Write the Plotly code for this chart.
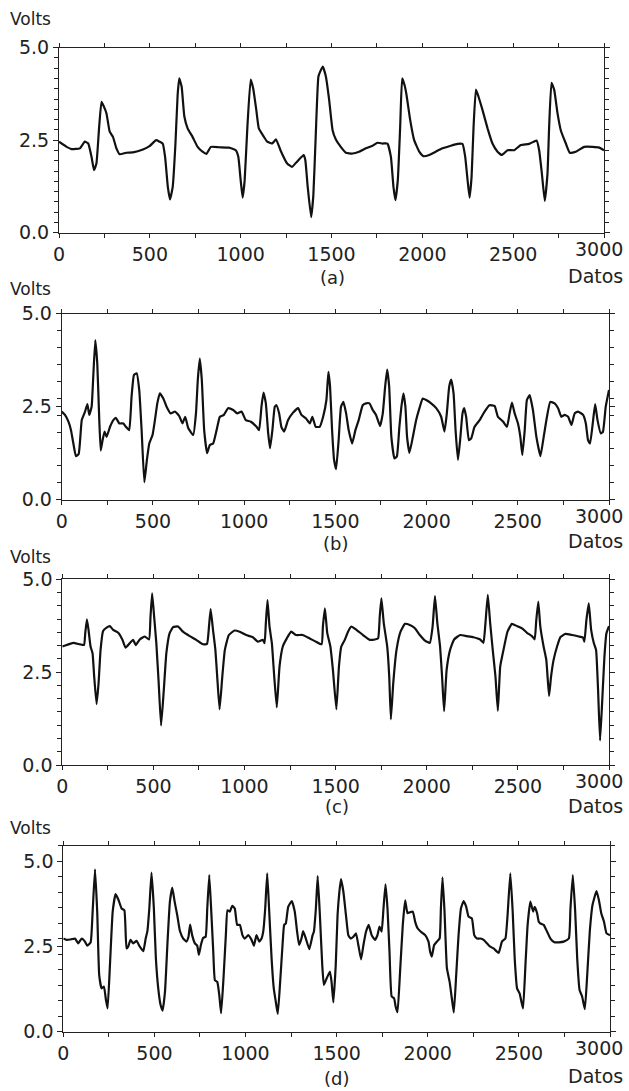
import plotly.graph_objects as go

# ---------------- data (sample index, volts) ----------------
a_x = [0, 42, 69, 115, 142, 161, 179, 193, 206, 221, 234, 246, 261, 279, 297, 316, 334, 370, 407, 462, 498, 535, 553, 571, 584, 599, 611, 626, 641, 653, 662, 675, 690, 708, 735, 763, 790, 812, 836, 881, 936, 973, 987, 1000, 1011, 1022, 1037, 1055, 1069, 1086, 1100, 1128, 1146, 1173, 1195, 1219, 1256, 1283, 1310, 1347, 1356, 1369, 1388, 1400, 1413, 1428, 1440, 1452, 1469, 1487, 1506, 1524, 1551, 1579, 1616, 1652, 1689, 1726, 1753, 1781, 1808, 1827, 1841, 1852, 1865, 1878, 1889, 1902, 1913, 1933, 1955, 1983, 2005, 2038, 2074, 2111, 2157, 2194, 2221, 2236, 2249, 2260, 2271, 2282, 2295, 2309, 2331, 2359, 2386, 2414, 2438, 2469, 2506, 2542, 2588, 2629, 2643, 2658, 2674, 2689, 2698, 2711, 2726, 2744, 2762, 2790, 2812, 2845, 2891, 2937, 2974, 3000]
a_v = [2.46, 2.32, 2.26, 2.28, 2.46, 2.41, 2.05, 1.69, 1.87, 2.86, 3.54, 3.42, 3.23, 2.73, 2.59, 2.28, 2.12, 2.16, 2.17, 2.25, 2.34, 2.50, 2.46, 2.41, 2.05, 1.24, 0.90, 1.24, 2.41, 3.72, 4.17, 3.95, 3.14, 2.82, 2.59, 2.32, 2.19, 2.13, 2.32, 2.31, 2.30, 2.23, 2.05, 1.42, 0.95, 1.42, 2.86, 4.14, 3.90, 3.32, 2.82, 2.59, 2.46, 2.41, 2.52, 2.23, 1.87, 1.78, 1.92, 2.10, 1.96, 1.24, 0.42, 1.00, 2.60, 4.22, 4.38, 4.49, 4.22, 3.59, 2.77, 2.52, 2.32, 2.16, 2.14, 2.19, 2.28, 2.35, 2.43, 2.41, 2.41, 2.05, 1.24, 0.88, 1.42, 2.86, 4.17, 3.99, 3.72, 3.05, 2.50, 2.19, 2.07, 2.10, 2.19, 2.28, 2.35, 2.40, 2.40, 2.05, 1.42, 0.95, 1.51, 2.86, 3.87, 3.68, 3.32, 2.82, 2.41, 2.19, 2.10, 2.23, 2.23, 2.37, 2.40, 2.49, 2.23, 1.60, 0.86, 1.60, 2.86, 4.05, 3.86, 3.23, 2.77, 2.41, 2.16, 2.19, 2.32, 2.32, 2.30, 2.23]

b_x = [0, 18, 37, 51, 64, 78, 93, 110, 128, 141, 151, 164, 173, 184, 195, 206, 214, 224, 235, 246, 265, 283, 297, 316, 338, 352, 370, 383, 396, 411, 425, 438, 453, 467, 480, 498, 511, 524, 538, 557, 575, 597, 621, 644, 662, 677, 694, 721, 736, 746, 757, 768, 781, 797, 812, 830, 849, 867, 889, 912, 940, 962, 986, 1009, 1035, 1068, 1082, 1095, 1106, 1119, 1132, 1142, 1155, 1168, 1177, 1192, 1204, 1219, 1241, 1268, 1296, 1314, 1338, 1360, 1374, 1392, 1414, 1433, 1451, 1462, 1471, 1482, 1493, 1504, 1518, 1531, 1544, 1559, 1573, 1592, 1610, 1628, 1650, 1668, 1687, 1705, 1723, 1745, 1760, 1773, 1784, 1795, 1807, 1824, 1837, 1851, 1862, 1873, 1884, 1893, 1906, 1925, 1943, 1961, 1979, 1998, 2025, 2053, 2080, 2098, 2111, 2124, 2135, 2148, 2159, 2172, 2184, 2197, 2206, 2217, 2232, 2245, 2263, 2291, 2318, 2345, 2373, 2391, 2419, 2441, 2455, 2468, 2483, 2501, 2514, 2525, 2538, 2550, 2565, 2583, 2602, 2624, 2642, 2660, 2678, 2702, 2721, 2739, 2757, 2776, 2794, 2812, 2830, 2858, 2873, 2885, 2896, 2913, 2924, 2937, 2955, 2967, 2982, 3000]
b_v = [2.37, 2.28, 2.10, 1.87, 1.51, 1.17, 1.23, 2.14, 2.37, 2.57, 2.28, 2.50, 3.31, 4.29, 3.66, 2.14, 1.32, 1.60, 1.83, 1.69, 1.96, 2.14, 2.20, 2.05, 2.05, 1.96, 1.87, 2.77, 3.35, 3.40, 2.95, 1.87, 0.47, 1.07, 1.51, 1.74, 2.14, 2.59, 2.86, 2.72, 2.50, 2.32, 2.37, 2.25, 2.05, 2.23, 1.92, 1.74, 2.32, 3.22, 3.79, 3.22, 1.87, 1.25, 1.47, 1.51, 1.87, 2.23, 2.28, 2.46, 2.41, 2.32, 2.37, 2.14, 2.10, 1.96, 1.87, 2.50, 2.88, 2.59, 1.78, 1.38, 1.87, 2.50, 2.54, 2.32, 1.96, 1.83, 2.14, 2.34, 2.46, 2.28, 2.19, 2.05, 2.23, 1.96, 1.96, 2.23, 2.68, 3.44, 3.04, 1.87, 1.07, 0.82, 1.60, 2.50, 2.63, 2.32, 1.87, 1.51, 1.87, 2.14, 2.54, 2.59, 2.59, 2.41, 2.28, 1.98, 2.32, 3.04, 3.50, 3.04, 1.69, 1.11, 1.16, 1.96, 2.50, 2.86, 2.50, 1.69, 1.26, 1.69, 2.14, 2.46, 2.72, 2.68, 2.59, 2.46, 2.23, 1.83, 2.32, 3.04, 3.23, 2.86, 1.87, 1.07, 1.60, 2.32, 2.46, 2.23, 1.60, 1.65, 1.96, 2.14, 2.37, 2.54, 2.52, 2.23, 2.10, 1.96, 2.32, 2.61, 2.32, 2.05, 1.69, 1.20, 1.87, 2.68, 2.81, 2.41, 1.69, 1.17, 1.69, 2.23, 2.63, 2.59, 2.46, 2.23, 2.28, 2.23, 2.01, 2.32, 2.37, 2.28, 2.05, 1.60, 1.51, 2.14, 2.57, 2.14, 1.78, 1.83, 2.50, 2.95]

c_x = [0, 24, 60, 97, 119, 126, 135, 144, 155, 166, 175, 188, 199, 210, 224, 243, 261, 279, 307, 330, 347, 370, 389, 403, 425, 453, 476, 484, 493, 504, 516, 529, 542, 557, 571, 589, 608, 635, 662, 699, 735, 772, 794, 805, 814, 827, 840, 850, 863, 878, 892, 914, 945, 973, 1009, 1046, 1073, 1100, 1110, 1117, 1126, 1137, 1150, 1163, 1177, 1192, 1210, 1232, 1256, 1283, 1319, 1356, 1392, 1423, 1430, 1441, 1454, 1471, 1485, 1504, 1518, 1531, 1550, 1568, 1586, 1614, 1650, 1687, 1715, 1733, 1742, 1751, 1764, 1783, 1794, 1803, 1816, 1834, 1856, 1880, 1907, 1935, 1962, 1990, 2017, 2032, 2045, 2058, 2073, 2084, 2095, 2109, 2128, 2150, 2183, 2219, 2256, 2293, 2311, 2322, 2335, 2348, 2362, 2377, 2390, 2403, 2421, 2443, 2467, 2495, 2523, 2550, 2577, 2592, 2601, 2612, 2623, 2641, 2656, 2671, 2682, 2696, 2715, 2733, 2761, 2797, 2834, 2858, 2865, 2876, 2889, 2902, 2917, 2929, 2940, 2951, 2963, 2975, 2986, 3000]
c_v = [3.19, 3.23, 3.29, 3.25, 3.23, 3.55, 3.92, 3.64, 3.19, 3.01, 2.38, 1.64, 2.20, 3.10, 3.61, 3.70, 3.74, 3.64, 3.56, 3.37, 3.16, 3.28, 3.37, 3.23, 3.38, 3.46, 3.38, 3.99, 4.62, 3.99, 3.28, 2.20, 1.06, 2.02, 3.01, 3.55, 3.71, 3.73, 3.59, 3.47, 3.37, 3.25, 3.26, 3.73, 4.20, 3.64, 3.10, 2.38, 1.50, 2.38, 3.10, 3.50, 3.62, 3.59, 3.50, 3.44, 3.32, 3.37, 3.28, 3.82, 4.44, 3.73, 3.28, 2.38, 1.55, 2.65, 3.19, 3.41, 3.59, 3.50, 3.50, 3.41, 3.32, 3.25, 3.73, 4.22, 3.55, 3.19, 2.56, 1.50, 2.65, 3.19, 3.37, 3.59, 3.73, 3.64, 3.50, 3.37, 3.38, 3.41, 4.00, 4.49, 3.82, 3.19, 2.38, 1.23, 2.20, 3.10, 3.59, 3.80, 3.77, 3.68, 3.50, 3.35, 3.29, 3.73, 4.55, 3.82, 3.19, 2.38, 1.45, 2.56, 3.10, 3.38, 3.50, 3.47, 3.44, 3.38, 3.29, 3.82, 4.58, 3.82, 3.10, 2.38, 1.46, 2.65, 3.10, 3.59, 3.80, 3.74, 3.68, 3.56, 3.47, 3.38, 3.90, 4.40, 3.73, 3.19, 2.83, 1.86, 2.38, 2.83, 3.19, 3.44, 3.53, 3.50, 3.46, 3.43, 3.32, 3.90, 4.35, 3.64, 3.28, 3.10, 2.02, 0.66, 1.75, 2.92, 3.55, 3.74]

d_x = [0, 18, 46, 64, 82, 101, 119, 132, 150, 161, 174, 186, 197, 210, 223, 234, 243, 256, 271, 287, 303, 320, 335, 347, 356, 369, 384, 402, 420, 439, 452, 461, 472, 484, 497, 508, 521, 534, 545, 558, 572, 585, 598, 611, 625, 640, 658, 676, 687, 696, 707, 722, 735, 744, 755, 768, 781, 790, 801, 812, 823, 832, 845, 856, 866, 879, 892, 901, 914, 927, 941, 954, 969, 983, 996, 1015, 1033, 1046, 1060, 1075, 1088, 1097, 1108, 1119, 1130, 1143, 1155, 1166, 1177, 1190, 1203, 1212, 1221, 1234, 1254, 1270, 1283, 1294, 1307, 1316, 1331, 1350, 1368, 1375, 1386, 1396, 1408, 1421, 1430, 1445, 1463, 1472, 1482, 1495, 1505, 1515, 1524, 1537, 1551, 1564, 1577, 1592, 1606, 1619, 1634, 1647, 1661, 1676, 1692, 1711, 1724, 1735, 1747, 1757, 1768, 1779, 1790, 1802, 1815, 1824, 1834, 1848, 1863, 1876, 1889, 1903, 1918, 1931, 1944, 1962, 1986, 2004, 2013, 2022, 2035, 2050, 2065, 2072, 2081, 2092, 2105, 2120, 2132, 2143, 2156, 2169, 2182, 2197, 2211, 2224, 2242, 2255, 2270, 2288, 2307, 2325, 2343, 2361, 2389, 2407, 2426, 2438, 2453, 2466, 2477, 2490, 2504, 2514, 2523, 2536, 2548, 2563, 2578, 2587, 2600, 2609, 2618, 2636, 2655, 2673, 2695, 2719, 2746, 2774, 2783, 2796, 2809, 2820, 2833, 2847, 2862, 2875, 2889, 2904, 2926, 2939, 2952, 2967, 2981, 3000]
d_v = [2.73, 2.69, 2.71, 2.73, 2.59, 2.73, 2.64, 2.52, 2.62, 3.52, 4.76, 3.52, 1.66, 1.27, 1.32, 0.93, 0.68, 1.95, 3.52, 4.03, 3.86, 3.61, 3.56, 2.44, 2.49, 2.69, 2.59, 2.66, 2.49, 2.36, 2.73, 2.93, 3.61, 4.66, 3.61, 2.15, 1.27, 0.78, 0.62, 1.17, 2.64, 3.81, 4.22, 3.81, 3.42, 2.95, 2.73, 2.64, 2.78, 3.14, 2.83, 2.59, 2.52, 2.25, 2.54, 2.75, 2.78, 3.61, 4.59, 3.52, 2.34, 1.51, 1.46, 1.07, 0.54, 1.56, 2.83, 3.56, 3.52, 3.69, 3.61, 3.13, 3.13, 2.83, 2.73, 2.83, 2.69, 2.52, 2.83, 2.64, 2.73, 2.93, 3.61, 4.64, 3.52, 2.15, 1.27, 0.88, 0.52, 1.46, 2.54, 3.13, 3.17, 3.66, 3.83, 3.52, 2.93, 2.54, 2.73, 2.95, 2.73, 2.42, 2.83, 2.93, 3.61, 4.56, 3.42, 1.95, 1.37, 1.56, 1.76, 1.46, 0.86, 1.95, 3.42, 4.10, 4.47, 4.10, 3.42, 2.83, 2.73, 2.78, 2.88, 2.54, 2.12, 2.54, 2.93, 3.13, 2.83, 2.69, 2.83, 3.08, 2.93, 3.61, 4.32, 3.61, 2.34, 1.03, 0.98, 0.73, 0.57, 1.76, 3.13, 3.85, 3.47, 3.50, 3.52, 3.22, 3.03, 2.93, 2.83, 2.64, 2.34, 2.20, 2.54, 2.64, 2.73, 3.61, 4.52, 3.52, 1.86, 1.46, 0.98, 0.56, 1.66, 2.83, 3.61, 3.83, 3.66, 3.37, 3.32, 2.83, 2.73, 2.73, 2.69, 2.59, 2.49, 2.44, 2.31, 2.64, 2.73, 3.42, 4.64, 3.52, 2.15, 1.27, 1.12, 0.88, 0.68, 1.95, 3.13, 3.81, 3.52, 3.66, 3.47, 3.22, 3.17, 3.13, 2.93, 2.73, 2.62, 2.62, 2.64, 2.73, 3.61, 4.59, 3.52, 2.15, 1.22, 1.03, 0.66, 1.66, 2.93, 3.71, 4.12, 3.86, 3.47, 3.22, 2.88, 2.83]

x_tick_vals = [0, 500, 1000, 1500, 2000, 2500, 3000]
x_tick_text = ["0", "500", "1000", "1500", "2000", "2500", ""]   # "3000" is drawn as a nudged label so it fits the page
last_x_label = "3000"
y_tick_vals = [0.0, 2.5, 5.0]
y_tick_text = ["0.0", "2.5", "5.0"]
panel_letters = ["(a)", "(b)", "(c)", "(d)"]

# ---------------- layout geometry (pixels of the 629x1091 page) ----------------
W, H = 629, 1091
FONT = "DejaVu Sans"
TXT = "#222222"
panels = [
    dict(x=a_x, v=a_v, l=59, r=604, t=47.7, b=232.7, ymax=5.0, minor=5 / 18, volts_y=19, lab_y=277, datos_y=276, lab_x=332),
    dict(x=b_x, v=b_v, l=61.7, r=609, t=313.7, b=499.7, ymax=5.0, minor=5 / 11, volts_y=289, lab_y=543, datos_y=541, lab_x=335),
    dict(x=c_x, v=c_v, l=62.3, r=609, t=579.3, b=765, ymax=5.0, minor=5 / 14, volts_y=557, lab_y=806, datos_y=806, lab_x=337),
    dict(x=d_x, v=d_v, l=63.3, r=610, t=845.7, b=1031.7, ymax=5.45, minor=5.45 / 12, volts_y=828, lab_y=1078, datos_y=1076, lab_x=336),
]

fig = go.Figure()
annotations = []
axis_color = "#222222"
for i, p in enumerate(panels):
    n = "" if i == 0 else str(i + 1)
    fig.add_trace(go.Scatter(
        x=p["x"], y=p["v"], mode="lines",
        line=dict(color="#111111", width=2.2, shape="spline", smoothing=0.4),
        xaxis="x" + n, yaxis="y" + n, showlegend=False, hoverinfo="skip",
    ))
    xd = [p["l"] / W, p["r"] / W]
    yd = [1 - p["b"] / H, 1 - p["t"] / H]
    fig.update_layout(**{
        "xaxis" + n: dict(
            domain=xd, range=[0, 3000], anchor="y" + n, automargin=False,
            tickmode="array", tickvals=x_tick_vals, ticktext=x_tick_text,
            ticks="outside", ticklen=4, tickwidth=1, tickcolor=axis_color,
            minor=dict(dtick=250, tick0=0, ticks="outside", ticklen=4, tickcolor=axis_color),
            showline=True, linecolor=axis_color, linewidth=1, mirror="ticks",
            showgrid=False, zeroline=False,
            tickfont=dict(family=FONT, size=19, color=TXT),
        ),
        "yaxis" + n: dict(
            domain=yd, range=[0, p["ymax"]], anchor="x" + n, automargin=False,
            tickmode="array", tickvals=y_tick_vals, ticktext=y_tick_text,
            ticks="outside", ticklen=5, tickwidth=1, tickcolor=axis_color,
            minor=dict(dtick=p["minor"], tick0=0, ticks="outside", ticklen=4, tickcolor=axis_color),
            showline=True, linecolor=axis_color, linewidth=1, mirror="ticks",
            showgrid=False, zeroline=False,
            tickfont=dict(family=FONT, size=19, color=TXT),
        ),
    })
    annotations.append(dict(text="Volts", x=8 / W, y=1 - p["volts_y"] / H, xref="paper", yref="paper",
                            xanchor="left", yanchor="middle", showarrow=False,
                            font=dict(family=FONT, size=17, color=TXT)))
    annotations.append(dict(text=panel_letters[i], x=p["lab_x"] / W, y=1 - p["lab_y"] / H, xref="paper", yref="paper",
                            xanchor="center", yanchor="middle", showarrow=False,
                            font=dict(family=FONT, size=18, color=TXT)))
    annotations.append(dict(text="Datos", x=625 / W, y=1 - p["datos_y"] / H, xref="paper", yref="paper",
                            xanchor="right", yanchor="middle", showarrow=False,
                            font=dict(family=FONT, size=19, color=TXT)))
    annotations.append(dict(text=last_x_label, x=625 / W, y=1 - (p["b"] + 16) / H, xref="paper", yref="paper",
                            xanchor="right", yanchor="middle", showarrow=False,
                            font=dict(family=FONT, size=19, color=TXT)))

fig.update_layout(
    width=W, height=H,
    margin=dict(l=0, r=0, t=0, b=0, autoexpand=False),
    paper_bgcolor="white", plot_bgcolor="white",
    annotations=annotations,
)

fig.write_html("out.html")
